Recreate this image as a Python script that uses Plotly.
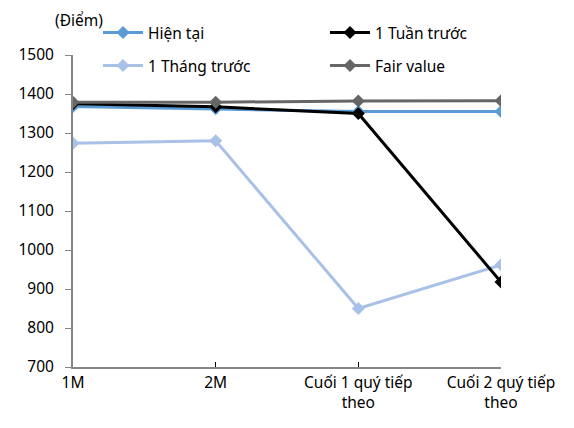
import plotly.graph_objects as go

categories = ["1M", "2M", "Cuối 1 quý tiếp<br>theo", "Cuối 2 quý tiếp<br>theo"]
hien_tai = [1368, 1362, 1355, 1355]
tuan_truoc = [1375, 1367, 1350, 918]
thang_truoc = [1274, 1280, 850, 962]
fair_value = [1379, 1379, 1382, 1383]

FONT = "Noto Sans"
FS = 15.5
W, H = 574, 428
x = list(range(len(categories)))

fig = go.Figure()

def add(name, y, color, legend):
    fig.add_trace(go.Scatter(
        x=x, y=y, name=name, mode="lines+markers",
        line=dict(color=color, width=3),
        marker=dict(symbol="diamond", size=10, color=color),
        legend=legend, showlegend=True,
    ))

add("1 Tháng trước", thang_truoc, "#A9C1E6", "legend3")
add("Hiện tại", hien_tai, "#5B9BD5", "legend")
add("1 Tuần trước", tuan_truoc, "#000000", "legend2")
add("Fair value", fair_value, "#666666", "legend4")

def leg(px, py):
    return dict(orientation="h", xref="container", yref="container",
                x=px / W, y=1 - py / H, xanchor="left", yanchor="middle",
                font=dict(family=FONT, size=FS, color="#000"),
                bgcolor="rgba(0,0,0,0)", itemwidth=40, visible=True)

fig.update_layout(
    width=W, height=H, showlegend=True,
    margin=dict(l=73, r=73, t=55, b=61, autoexpand=False),
    paper_bgcolor="white", plot_bgcolor="white",
    font=dict(family=FONT, size=FS, color="#000"),
    legend=leg(98, 33),
    legend2=leg(325, 33),
    legend3=leg(98, 66),
    legend4=leg(325, 66),
    xaxis=dict(
        range=[0, 3], tickmode="array", tickvals=x, ticktext=categories,
        showgrid=False, zeroline=False, showline=True, linecolor="#868686",
        linewidth=2, ticks="inside", ticklen=5, tickcolor="#000", tickwidth=1,
        tickfont=dict(family=FONT, size=FS), automargin=False,
    ),
    yaxis=dict(
        range=[700, 1500], dtick=100, showgrid=False, zeroline=False,
        showline=True, linecolor="#868686", linewidth=2,
        ticks="outside", ticklen=6, tickcolor="#868686", tickwidth=1,
        tickfont=dict(family=FONT, size=FS), ticklabelstandoff=8,
        automargin=False,
    ),
    annotations=[dict(text="(Điểm)", xref="paper", yref="paper",
                      x=(53 - 73) / 428, y=(428 - 61 - 20) / (428 - 55 - 61),
                      xanchor="left", yanchor="middle", showarrow=False,
                      font=dict(family=FONT, size=FS))],
)

fig.write_html("out.html", config={"displayModeBar": False},
               post_script="document.body.style.margin='0';")
